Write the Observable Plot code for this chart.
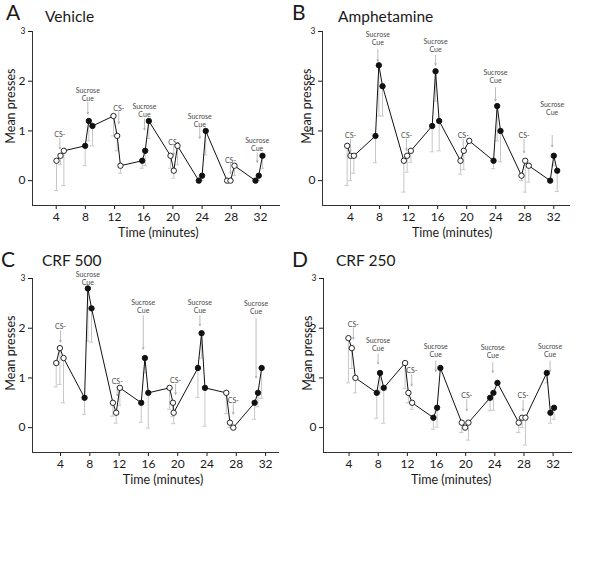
<!DOCTYPE html>
<html>
<head>
<meta charset="utf-8">
<script src="https://cdn.jsdelivr.net/npm/d3@7"></script>
<script src="https://cdn.jsdelivr.net/npm/@observablehq/plot@0.6"></script>
<style>
  html, body { margin: 0; padding: 0; background: #fff; }
  #wrap { position: relative; width: 600px; height: 577px; background: #fff; font-family: Lato, "Open Sans", sans-serif; color: #1a1a1a; }
  .panel { position: absolute; }
  .letter { position: absolute; font-size: 21px; line-height: 21px; height: 21px; }
  .title { position: absolute; font-size: 15.5px; line-height: 15px; height: 15px; }
</style>
</head>
<body>
<div id="wrap">
  <div id="pA" class="panel" style="left:0px; top:0px;"></div>
  <div id="pB" class="panel" style="left:300px; top:0px;"></div>
  <div id="pC" class="panel" style="left:0px; top:247px;"></div>
  <div id="pD" class="panel" style="left:300px; top:247px;"></div>
  <div class="letter" style="left:6px; top:1px;">A</div>
  <div class="title" style="left:45px; top:9px;">Vehicle</div>
  <div class="letter" style="left:292px; top:1px;">B</div>
  <div class="title" style="left:338px; top:9px;">Amphetamine</div>
  <div class="letter" style="left:1px; top:248px;">C</div>
  <div class="title" style="left:42px; top:253px;">CRF 500</div>
  <div class="letter" style="left:292px; top:248px;">D</div>
  <div class="title" style="left:336px; top:253px;">CRF 250</div>
</div>
<script>
// ---- shared ----
const timeTicks = [4, 8, 12, 16, 20, 24, 28, 32];
const yTicks = [0, 1, 2, 3];
const cueType = ["CS-","CS-","CS-","Sucrose","Sucrose","Sucrose",
                 "CS-","CS-","CS-","Sucrose","Sucrose","Sucrose",
                 "CS-","CS-","CS-","Sucrose","Sucrose","Sucrose",
                 "CS-","CS-","CS-","Sucrose","Sucrose","Sucrose"];
const annLabels = ["CS-","Sucrose\nCue","CS-","Sucrose\nCue","CS-","Sucrose\nCue","CS-","Sucrose\nCue"];

// ---- A: Vehicle ----
const vehicleTime = [4.04,4.59,5.05, 7.97,8.47,8.97, 11.85,12.36,12.81, 15.79,16.2,16.7, 19.67,20.12,20.63, 23.55,24.0,24.5, 27.43,27.89,28.44, 31.32,31.77,32.28];
const vehicleMean = [0.4,0.5,0.6, 0.7,1.2,1.1, 1.3,0.9,0.3, 0.4,0.6,1.2, 0.5,0.2,0.7, 0,0.1,1.0, 0,0,0.3, 0,0.1,0.5];
const vehicleLow  = [-0.2,0.32,-0.1, 0.3,0.8,0.7, 0.9,0.6,0.15, 0.25,0.3,0.85, 0.25,0.05,0.32, 0,0,0.52, 0,0,0.1, 0,0,0.25];
const vehicleAnnX = [4.5, 8.33, 12.58, 16.1, 20.12, 23.68, 27.89, 31.55];
const vehicleAnnY = [0.93, 1.74, 1.46, 1.42, 0.77, 1.22, 0.40, 0.72];
const vehicleArrowFrom = [0.85, 1.58, 1.39, 1.24, 0.70, 1.07, 0.34, 0.56];
const vehicleArrowTo   = [0.64, 1.34, 1.15, 1.02, 0.52, 0.85, 0.14, 0.37];

// ---- B: Amphetamine ----
const amphTime = [3.54,4.0,4.46, 7.44,7.9,8.41, 11.35,11.8,12.31, 15.25,15.71,16.21, 19.15,19.6,20.35, 23.7,24.2,24.66, 27.55,28.06,28.56, 31.5,32.0,32.47];
const amphMean = [0.7,0.5,0.5, 0.9,2.32,1.9, 0.4,0.5,0.6, 1.1,2.2,1.2, 0.4,0.6,0.8, 0.4,1.5,1.0, 0.1,0.4,0.3, 0,0.5,0.2];
const amphLow  = [-0.1,0,0.15, 0.36,1.3,1.3, -0.23,0.17,0.37, 0.58,1.6,0.6, 0.13,0.22,0.8, 0.24,0.8,0.38, 0,-0.23,-0.03, 0,0.3,-0.22];
const amphAnnX = [4.0, 7.76, 11.71, 15.71, 19.52, 23.97, 27.9, 31.78];
const amphAnnY = [0.91, 2.855, 0.91, 2.725, 0.91, 2.095, 0.91, 1.46];
const amphArrowFrom = [0.83, 2.64, 0.83, 2.52, 0.83, 1.87, 0.83, 0.91];
const amphArrowTo   = [0.58, 2.40, 0.61, 2.32, 0.61, 1.60, 0.56, 0.68];

// ---- C: CRF 500 ----
const crf500Time = [3.41,3.91,4.41, 7.28,7.73,8.23, 11.15,11.6,12.1, 15.02,15.52,15.98, 18.89,19.35,19.45, 22.76,23.26,23.72, 26.63,27.13,27.59, 30.5,30.96,31.46];
const crf500Mean = [1.3,1.6,1.4, 0.6,2.8,2.4, 0.5,0.3,0.8, 0.5,1.4,0.7, 0.8,0.5,0.3, 1.2,1.9,0.8, 0.7,0.1,0, 0.5,0.7,1.2];
const crf500Low  = [0.82,0.87,0.5, 0.27,1.74,1.72, 0.23,0.09,0.45, 0.11,1.1,-0.01, 0.37,0.22,0.08, 0.61,1.4,0.03, 0.28,0,0, 0.17,0.42,0.59];
const crf500AnnX = [4.0, 7.73, 11.74, 15.29, 19.71, 23.03, 27.59, 30.7];
const crf500AnnY = [2.03, 3.0, 0.93, 2.445, 0.95, 2.445, 0.54, 2.425];
const crf500ArrowFrom = [1.95, null, 0.84, 2.25, 0.87, 2.25, 0.48, 2.2];
const crf500ArrowTo   = [1.72, null, 0.64, 1.58, 0.67, 2.05, 0.27, 1.0];

// ---- D: CRF 250 ----
const crf250Time = [3.91,4.37,4.87, 7.8,8.25,8.76, 11.69,12.14,12.65, 15.57,16.08,16.53, 19.46,19.92,20.38, 23.35,23.81,24.36, 27.28,27.74,28.2, 31.13,31.63,32.13];
const crf250Mean = [1.8,1.6,1.0, 0.7,1.1,0.8, 1.3,0.7,0.5, 0.2,0.4,1.2, 0.1,0,0.1, 0.6,0.7,0.9, 0.1,0.2,0.2, 1.1,0.3,0.4];
const crf250Low  = [0.9,1.19,0.7, 0.19,0.7,0.09, 0.79,0.5,0.37, -0.03,0.01,1.2, -0.1,0,-0.25, 0.34,0.35,0.9, -0.1,0,-0.35, 0.9,0.09,0.17];
const crf250AnnX = [4.59, 7.98, 12.6, 15.89, 20.15, 23.72, 27.88, 31.58];
const crf250AnnY = [2.08, 1.665, 1.15, 1.545, 0.65, 1.525, 0.64, 1.545];
const crf250ArrowFrom = [2.01, 1.48, 1.07, 1.34, 0.57, 1.31, 0.55, 1.34];
const crf250ArrowTo   = [1.78, 1.28, 0.84, 1.13, 0.34, 1.11, 0.34, 1.13];

function panel(o) {
  const data = o.time.map((t, i) => ({t, m: o.mean[i], lo: o.low[i], type: cueType[i]}));
  const bars = data.filter(d => d.lo < d.m);
  const anns = o.annX.map((x, i) => ({x, y: o.annY[i], from: o.from[i], to: o.to[i], label: annLabels[i]}));
  const arrows = anns.filter(a => a.from != null);
  const xMid = (timeTicks[0] + timeTicks[timeTicks.length - 1]) / 2;
  const yMid = (yTicks[0] + yTicks[yTicks.length - 1]) / 2;
  const yTop = yTicks[yTicks.length - 1];
  return Plot.plot({
    width: 300, height: 245,
    marginTop: 31, marginBottom: 40,
    marginLeft: o.marginLeft, marginRight: o.marginRight,
    style: {fontFamily: "Lato, 'Open Sans', sans-serif", fontSize: "12px", background: "transparent", color: "#1a1a1a"},
    x: {domain: o.xDomain},
    y: {domain: [-0.5, 3]},
    marks: [
      Plot.ruleX(bars, {x: "t", y1: "m", y2: "lo", stroke: "#c6c6c6", strokeWidth: 1}),
      Plot.ruleY(bars, {y: "lo", x1: d => d.t - 0.28, x2: d => d.t + 0.28, stroke: "#c6c6c6", strokeWidth: 1}),
      Plot.arrow(arrows, {x1: "x", x2: "x", y1: "from", y2: "to", stroke: "#a0a0a0", strokeWidth: 0.7, headLength: 4, headAngle: 50}),
      Plot.text(anns, {x: "x", y: "y", text: "label", fontSize: 7, fill: "#4a4a4a", lineHeight: 1.15}),
      Plot.line(data, {x: "t", y: "m", stroke: "#111", strokeWidth: 1}),
      Plot.dot(data, {x: "t", y: "m", r: 2.7, fill: d => d.type === "CS-" ? "white" : "#111", stroke: "#111", strokeWidth: 0.9}),
      Plot.axisX({ticks: timeTicks, tickFormat: d => String(d), tickSize: 4, tickPadding: 3, label: null, fontSize: 12}),
      Plot.axisY({ticks: yTicks.filter(t => t !== yTop), tickFormat: d => String(d), tickSize: 4, tickPadding: 3, label: null, fontSize: 12}),
      Plot.axisY({ticks: [yTop], tickFormat: d => String(d), tickSize: 4, tickPadding: 3, label: null, fontSize: 8.5}),
      Plot.ruleX([o.xDomain[0]], {stroke: "#333", strokeWidth: 1}),
      Plot.ruleY([-0.5], {stroke: "#333", strokeWidth: 1}),
      Plot.text(["Mean presses"], {text: d => d, frameAnchor: "left", y: yMid, rotate: -90, dx: o.yLabelDx, textAnchor: "middle", lineAnchor: "middle", fontSize: 12.5}),
      Plot.text(["Time (minutes)"], {text: d => d, frameAnchor: "bottom", x: xMid, dy: 27, textAnchor: "middle", lineAnchor: "middle", fontSize: 12.5})
    ]
  });
}

document.getElementById("pA").appendChild(panel({
  time: vehicleTime, mean: vehicleMean, low: vehicleLow,
  annX: vehicleAnnX, annY: vehicleAnnY, from: vehicleArrowFrom, to: vehicleArrowTo,
  xDomain: [0.75, 34.75], marginLeft: 32, marginRight: 20, yLabelDx: -22
}));
document.getElementById("pB").appendChild(panel({
  time: amphTime, mean: amphMean, low: amphLow,
  annX: amphAnnX, annY: amphAnnY, from: amphArrowFrom, to: amphArrowTo,
  xDomain: [0.14, 34.3], marginLeft: 22, marginRight: 30, yLabelDx: -16
}));
document.getElementById("pC").appendChild(panel({
  time: crf500Time, mean: crf500Mean, low: crf500Low,
  annX: crf500AnnX, annY: crf500AnnY, from: crf500ArrowFrom, to: crf500ArrowTo,
  xDomain: [0.17, 33.9], marginLeft: 32, marginRight: 21, yLabelDx: -22
}));
document.getElementById("pD").appendChild(panel({
  time: crf250Time, mean: crf250Mean, low: crf250Low,
  annX: crf250AnnX, annY: crf250AnnY, from: crf250ArrowFrom, to: crf250ArrowTo,
  xDomain: [0.49, 34.66], marginLeft: 23, marginRight: 28, yLabelDx: -16
}));
</script>
</body>
</html>
